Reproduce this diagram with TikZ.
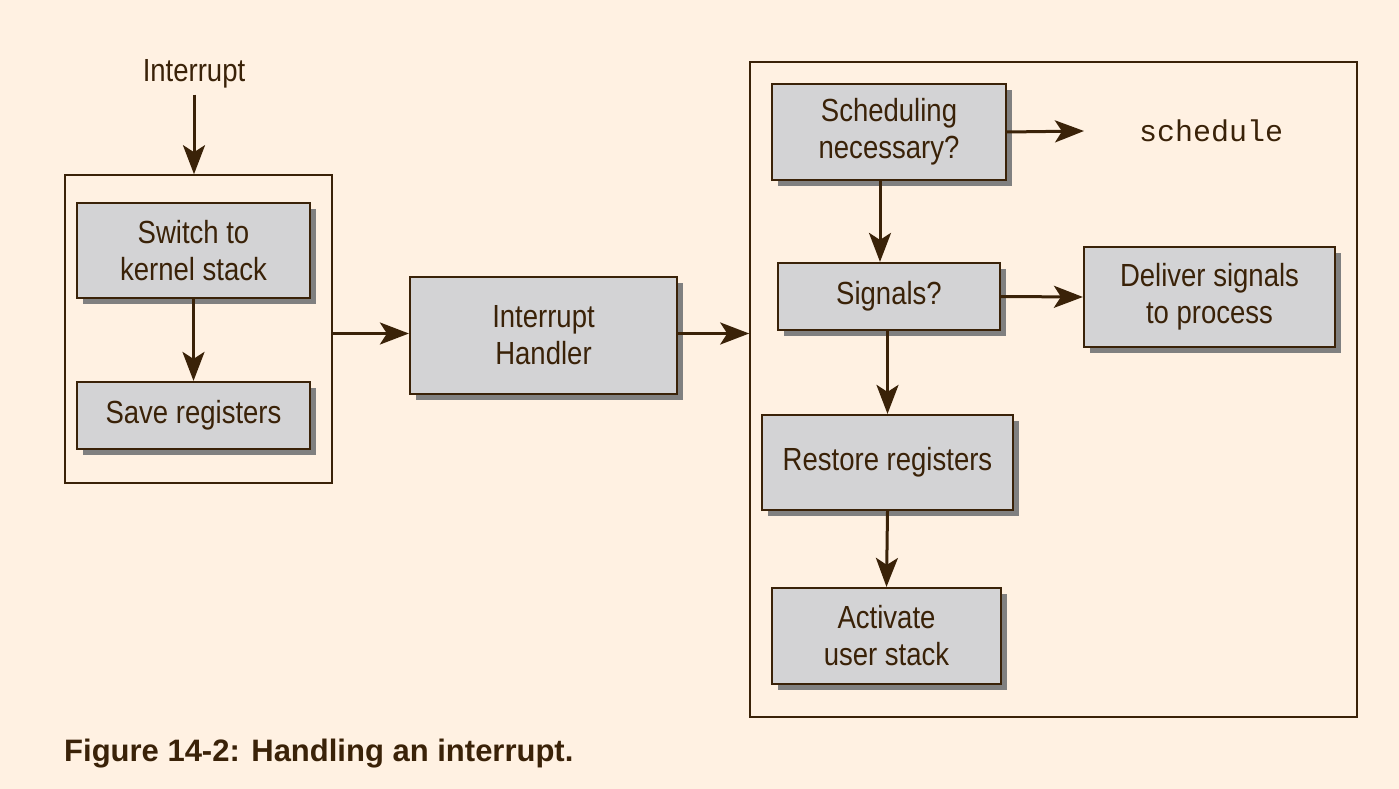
\documentclass[tikz,border=0pt]{standalone}
\usepackage{fontspec}
\setmainfont{Liberation Sans}[FakeStretch=0.86]
\newfontfamily\capfont{Liberation Sans}
\newfontfamily\monofont{Liberation Mono}
\usetikzlibrary{arrows.meta,shadows}
\definecolor{bg}{RGB}{255,241,226}
\definecolor{boxfill}{RGB}{211,211,213}
\definecolor{ink}{RGB}{58,34,8}
\definecolor{shade}{RGB}{128,128,128}
\tikzset{
  x=1pt, y=-1pt,
  box/.style={draw=ink, line width=2.2pt, fill=boxfill, align=center, text=ink,
    font=\fontsize{32}{37}\selectfont, inner sep=0pt,
    drop shadow={shadow xshift=6pt, shadow yshift=-6pt, fill=shade, opacity=1}},
  frame/.style={draw=ink, line width=1.6pt, inner sep=0pt},
  arr/.style={draw=ink, line width=3pt, -{Stealth[length=29pt,width=22pt,inset=7pt]}},
  lbl/.style={text=ink, inner sep=0pt},
}
\begin{document}
\begin{tikzpicture}
\fill[bg] (0,0) rectangle (1399,789);
\useasboundingbox (0,0) rectangle (1399,789);

% frames
\node[frame, minimum width=267pt, minimum height=308pt] (lf) at (198.5,329) {};
\node[frame, minimum width=607pt, minimum height=655pt] (rf) at (1053.5,389.5) {};

% label
\node[lbl, font=\fontsize{32}{37}\selectfont] (it) at (194,74) {Interrupt};

% boxes
\node[box, minimum width=233pt, minimum height=95pt] (sw) at (193.5,250.5) {Switch to\\kernel stack};
\node[box, minimum width=233pt, minimum height=67pt] (sv) at (193.5,415.5) {Save registers};
\node[box, minimum width=267pt, minimum height=117pt] (ih) at (543.5,335.5) {Interrupt\\Handler};
\node[box, minimum width=234pt, minimum height=96pt] (sc) at (889,132) {Scheduling\\necessary?};
\node[box, minimum width=222pt, minimum height=67pt] (sg) at (889,296.5) {Signals?};
\node[box, minimum width=251pt, minimum height=100pt] (dl) at (1209.5,297) {Deliver signals\\to process};
\node[box, minimum width=251pt, minimum height=95pt] (rs) at (887.5,462.5) {Restore registers};
\node[box, minimum width=229pt, minimum height=96pt] (ac) at (886.5,636) {Activate\\user stack};

\node[lbl, font=\monofont\fontsize{30}{36}\selectfont, anchor=west] (sch) at (1139,131) {schedule};
\coordinate (schend) at (1084,131);

% caption
\node[lbl, font=\capfont\bfseries\fontsize{31}{37}\selectfont, anchor=base west] (cap) at (64,761) {Figure 14-2: Handling an interrupt.};

% connectors
\draw[arr] (it.south) ++(0,6) -- (it.south |- lf.north);
\draw[arr] (sw.south) -- (sv.north);
\draw[arr] (ih.west -| lf.east) ++(0,-2) -- ([yshift=2pt]ih.west);
\draw[arr] ([yshift=2pt]ih.east) -- ([yshift=2pt]ih.east -| rf.west);
\draw[arr] (sc.east) -- (schend);
\draw[arr] ([xshift=-9pt]sc.south) -- ([xshift=-9pt]sg.north);
\draw[arr] (sg.east) -- (dl.west);
\draw[arr] (sg.south -| rs.north) -- (rs.north);
\draw[arr] (rs.south) -- (ac.north);
\end{tikzpicture}
\end{document}
